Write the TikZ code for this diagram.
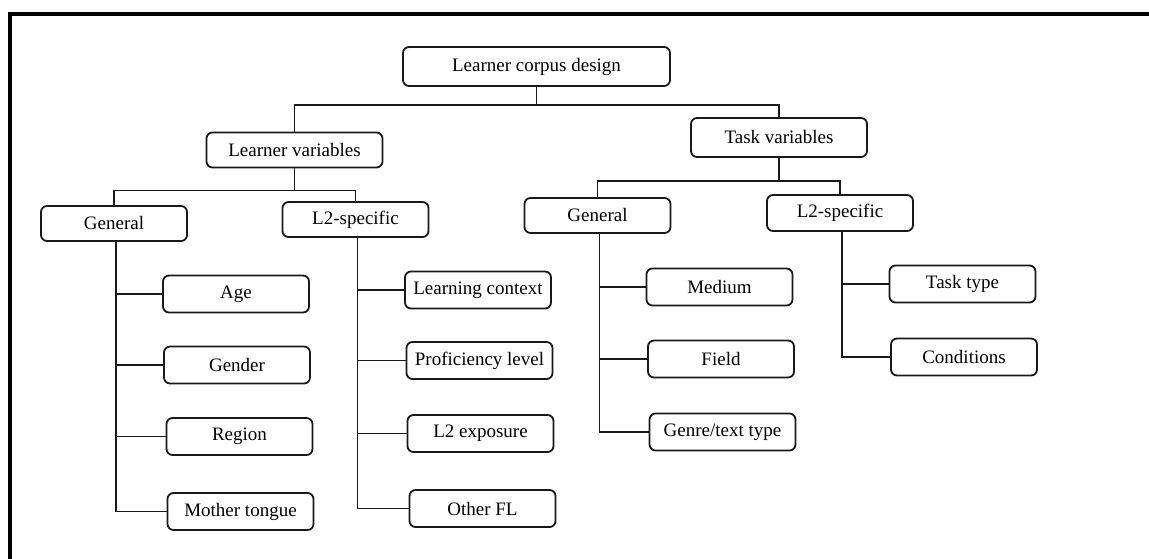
\documentclass[tikz,border=0pt]{standalone}
\usepackage{fontspec}
\setmainfont{Liberation Serif}
\colorlet{box edge}{black!90}
\tikzset{box/.style={draw=box edge, line width=1.8pt, rounded corners=6pt,
      minimum width=146pt, minimum height=37pt, inner sep=0pt,
      font=\fontsize{19}{22}\selectfont},
    head/.style={box, minimum width=176pt, minimum height=37pt},
    link/.style={draw=box edge, line width=1.7pt}}

\begin{document}
\begin{tikzpicture}[x=1pt,y=-1pt]
  \useasboundingbox (0,0) rectangle (1149,559);
  % frame
  \draw[line width=3.5pt] (10,560) -- (10,14) -- (1150,14);

  \node[box, minimum width=267pt, minimum height=39pt] (root) at (536.5,66.5) {Learner corpus design};
  \node[head, minimum height=35pt] (lv) at (294.5,150) {Learner variables};
  \node[head, minimum height=39pt] (tv) at (779,137.5) {Task variables};

  \node[box, minimum height=35pt] (genL) at (114,223.5) {General};
  \node[box, minimum height=35pt] (l2L) at (355.5,219.5) {L2-specific};
  \node[box, minimum height=35pt] (genR) at (597.5,215.5) {General};
  \node[box, minimum height=36pt] (l2R) at (840,213) {L2-specific};

  \node[box] (age) at (236,294) {Age};
  \node[box] (gender) at (237,365) {Gender};
  \node[box] (region) at (239.5,436.5) {Region};
  \node[box] (mother) at (240.5,511.5) {Mother tongue};

  \node[box] (context) at (478,290) {Learning context};
  \node[box] (level) at (479.5,360.5) {Proficiency level};
  \node[box] (exposure) at (480.5,433.5) {L2 exposure};
  \node[box] (otherfl) at (482.5,508.5) {Other FL};

  \node[box] (medium) at (719.5,287) {Medium};
  \node[box] (field) at (721,359) {Field};
  \node[box] (genre) at (722.5,432) {Genre/text type};

  \node[box] (tasktype) at (962.5,284) {Task type};
  \node[box] (cond) at (964,357) {Conditions};

  % tree links
  \draw[link] (root.south) -- ++(0,18) -| (lv.north);
  \draw[link] (root.south) -- ++(0,18) -| (tv.north);
  \draw[link] (lv.south) -- ++(0,22) -| (genL.north);
  \draw[link] (lv.south) -- ++(0,22) -| (l2L.north);
  \draw[link] (tv.south) -- ++(0,23) -| (genR.north);
  \draw[link] (tv.south) -- ++(0,23) -| (l2R.north);

  \foreach \leaf in {age,gender,region,mother}
    \draw[link] ([xshift=2pt]genL.south) |- (\leaf.west);
  \foreach \leaf in {context,level,exposure,otherfl}
    \draw[link] ([xshift=2pt]l2L.south) |- (\leaf.west);
  \foreach \leaf in {medium,field,genre}
    \draw[link] ([xshift=2pt]genR.south) |- (\leaf.west);
  \foreach \leaf in {tasktype,cond}
    \draw[link] ([xshift=2pt]l2R.south) |- (\leaf.west);
\end{tikzpicture}
\end{document}
